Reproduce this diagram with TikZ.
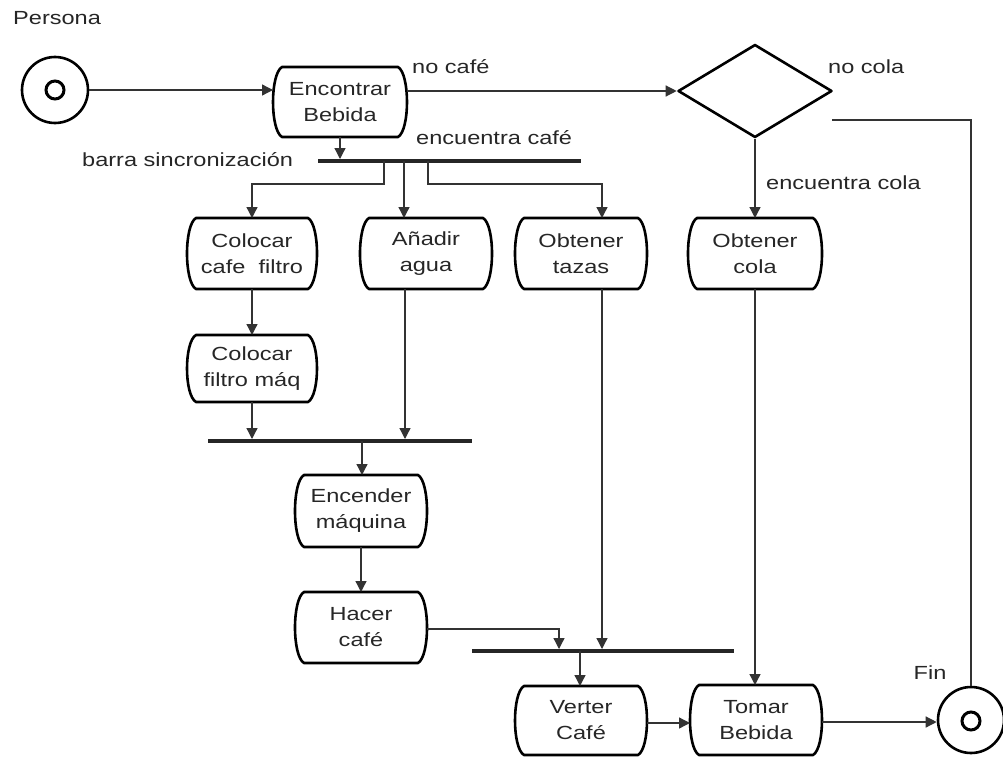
\documentclass[tikz,border=0pt]{standalone}
\usepackage{fontspec}
\setmainfont{Liberation Sans}[FakeStretch=1.24]
\usetikzlibrary{arrows.meta,shapes.geometric}

% activity box: invisible rectangle holding the text, outline drawn with bulged sides
\newcommand{\actbox}[5]{%
  \node[actnode, minimum width=#4, minimum height=#5] (#1) at (#2) {#3};
  \draw[boxline] ([xshift=9pt]#1.north west) -- ([xshift=-9pt]#1.north east)
    .. controls +(12,7) and +(12,-7) .. ([xshift=-9pt]#1.south east)
    -- ([xshift=9pt]#1.south west)
    .. controls +(-12,-7) and +(-12,7) .. ([xshift=9pt]#1.north west) -- cycle;
}

\begin{document}
\begin{tikzpicture}[x=1pt,y=-1pt,
  every node/.style={font=\fontsize{19}{26}\selectfont, text=black!85},
  actnode/.style={rectangle, inner sep=0pt, outer sep=0pt, align=center},
  boxline/.style={line width=2.6pt, line join=round},
  syncbar/.style={rectangle, fill=black!85, inner sep=0pt, outer sep=0pt, minimum height=4pt},
  flow/.style={line width=1.3pt, draw=black!80},
  arr/.style={flow, -{Triangle[length=11pt,width=11pt]}},
  lbl/.style={inner sep=0pt, anchor=west},
  endpoint/.style={circle, draw, line width=2.6pt, inner sep=0pt, minimum size=66pt},
  endcore/.style={circle, draw, line width=3pt, inner sep=0pt, minimum size=18pt}
]
\useasboundingbox (0,0) rectangle (1003,757);

% start and end states
\node[endpoint] (start) at (55,90) {};
\node[endcore] (start-in) at (55,90) {};
\node[endpoint] (end) at (971,720) {};
\node[endcore] (end-in) at (971,721) {};

% activities
\actbox{enc}{340,102}{Encontrar\\Bebida}{134}{70}
\actbox{col1}{252,253.5}{Colocar\\cafe\ \ filtro}{130}{71}
\actbox{agua}{426,253.5}{Añadir\\agua}{132}{71}
\actbox{tazas}{581,253.5}{Obtener\\tazas}{132}{71}
\actbox{ocola}{755,253.5}{Obtener\\cola}{134}{71}
\actbox{col2}{252,368.5}{Colocar\\filtro máq}{130}{67}
\actbox{encd}{361,511}{Encender\\máquina}{132}{72}
\actbox{hacer}{361,627.5}{Hacer\\café}{132}{71}
\actbox{verter}{581,720.5}{Verter\\Café}{132}{69}
\actbox{tomar}{756,720}{Tomar\\Bebida}{132}{70}

% decision
\node[diamond, draw, line width=2.6pt, line join=round, inner sep=0pt,
      minimum width=154pt, minimum height=93pt] (dec) at (755,91) {};

% synchronisation bars
\node[syncbar, minimum width=263pt] (b1) at (449.5,161) {};
\node[syncbar, minimum width=264pt] (b2) at (340,441) {};
\node[syncbar, minimum width=262pt] (b3) at (603,651) {};

% branch points on the bars
\coordinate (b1a) at (384,161);
\coordinate (b1b) at (404,161);
\coordinate (b1c) at (428,161);
\coordinate (b2o) at (362,441);
\coordinate (b3o) at (580,651);
\coordinate (cola-exit) at (832,120);

% labels
\node[lbl] (persona) at (13,18) {Persona};
\node[lbl] (nocafe) at (412,67) {no café};
\node[lbl] (encafe) at (416,138) {encuentra café};
\node[lbl] (barra) at (82,160) {barra sincronización};
\node[lbl] (nocola) at (828,67) {no cola};
\node[lbl] (encola) at (766,183) {encuentra cola};
\node (fin) at (930,673) {Fin};

% flows
\draw[arr] (start.east) -- (start.east -| enc.west);
\draw[arr] (dec.west -| enc.east) -- (dec.west);
\draw[arr] (enc.south) -- (enc.south |- b1.north);
\draw[arr] (b1a) -- ++(0,23) -| (col1.north);
\draw[arr] (b1b) -- (b1b |- agua.north);
\draw[arr] (b1c) -- ++(0,23) -| ([xshift=21pt]tazas.north);
\draw[arr] (dec.south) -- (ocola.north);
\draw[flow] (cola-exit) -| (end.north);
\draw[arr] (col1.south) -- (col2.north);
\draw[arr] (col2.south) -- (col2.south |- b2.north);
\draw[arr] ([xshift=-21pt]agua.south) -- ([xshift=-21pt]agua.south |- b2.north);
\draw[arr] (b2o) -- (b2o |- encd.north);
\draw[arr] (encd.south) -- (hacer.north);
\draw[arr] ([yshift=-1.5pt]hacer.east) -| ([xshift=-44pt]b3.north);
\draw[arr] ([xshift=21pt]tazas.south) -- ([xshift=21pt]tazas.south |- b3.north);
\draw[arr] (b3o) -- (b3o |- verter.north);
\draw[arr] ([yshift=-2.5pt]verter.east) -- ([yshift=-2.5pt]verter.east -| tomar.west);
\draw[arr] (ocola.south) -- (ocola.south |- tomar.north);
\draw[arr] ([yshift=-2pt]tomar.east) -- ([yshift=-2pt]tomar.east -| end.west);
\end{tikzpicture}
\end{document}
